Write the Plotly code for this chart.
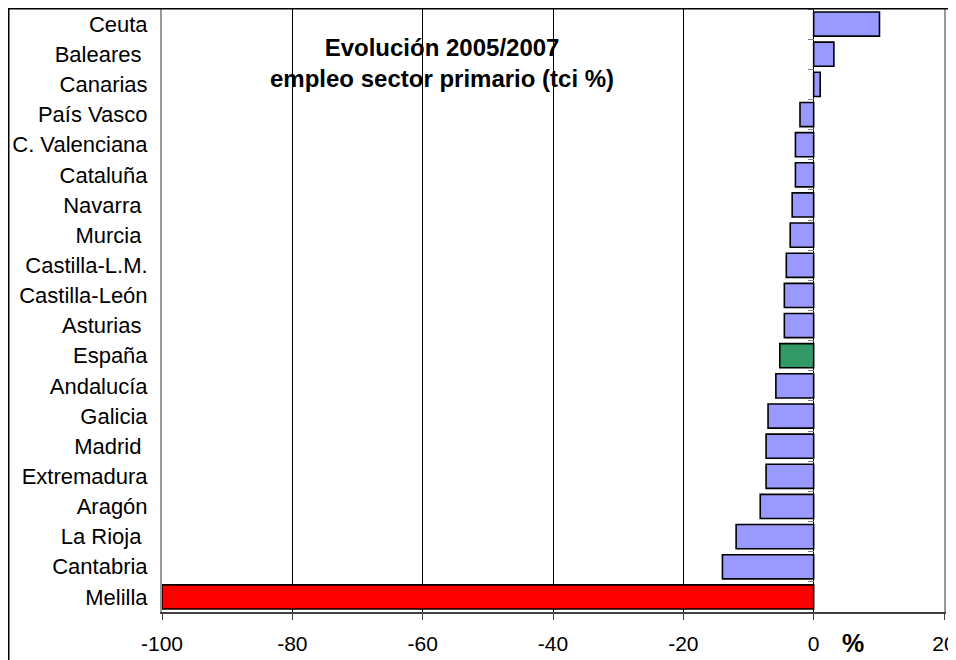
import plotly.graph_objects as go

categories = ["Ceuta", "Baleares\u00a0", "Canarias", "País Vasco", "C. Valenciana", "Cataluña",
              "Navarra\u00a0", "Murcia\u00a0", "Castilla-L.M.", "Castilla-León", "Asturias\u00a0",
              "España", "Andalucía", "Galicia", "Madrid\u00a0", "Extremadura", "Aragón",
              "La Rioja\u00a0", "Cantabria", "Melilla"]
values = [10.1, 3.1, 1.0, -2.1, -2.8, -2.8, -3.3, -3.6, -4.2, -4.5, -4.5,
          -5.2, -5.8, -7.0, -7.3, -7.3, -8.2, -11.9, -14.0, -100.0]
x_ticks = [-100, -80, -60, -40, -20, 0, 20]
x_range = [-100, 20]

def bar_color(name):
    if name.startswith("España"):
        return "#339966"
    if name.startswith("Melilla"):
        return "#FF0000"
    return "#9999FF"

colors = [bar_color(c) for c in categories]

FONT = "Liberation Sans, Arial, sans-serif"

fig = go.Figure()
fig.add_trace(go.Bar(
    x=values, y=categories, orientation="h",
    marker=dict(color=colors, line=dict(color="black", width=1.6)),
    hoverinfo="x+y", showlegend=False,
))
# invisible trace for the category axis drawn at zero
fig.add_trace(go.Scatter(
    x=[0] * len(categories), y=categories, yaxis="y2", mode="markers",
    marker=dict(opacity=0), hoverinfo="skip", showlegend=False,
))

# page body has an 8px margin; figure sized to fit the window
W, H = 948, 652
L, R, T, B = 154, 12, 1, 48
pw, ph = W - L - R, H - T - B

def px_x(px):  # px in figure pixels
    return (px - L) / pw

def px_y(py):
    return (H - B - py) / ph

zero_pos = (0 - x_range[0]) / (x_range[1] - x_range[0])

fig.update_layout(
    width=W, height=H,
    margin=dict(l=L, r=R, t=T, b=B),
    paper_bgcolor="white", plot_bgcolor="white",
    bargap=0.2,
    font=dict(family=FONT, color="black"),
    xaxis=dict(
        range=x_range, tickvals=x_ticks, ticktext=[str(v) for v in x_ticks],
        showgrid=True, gridcolor="black", gridwidth=1, zeroline=False,
        showline=True, linecolor="#404040", linewidth=1.5, mirror=False,
        ticks="outside", ticklen=6, tickcolor="#404040", tickwidth=1,
        tickfont=dict(size=21, family=FONT, color="black"),
        ticklabelstandoff=6, fixedrange=True,
    ),
    yaxis=dict(
        type="category", categoryorder="array", categoryarray=categories,
        range=[len(categories) - 0.5, -0.5],
        showgrid=False, zeroline=False,
        showline=True, linecolor="#999999", linewidth=2, mirror=True,
        ticks="", tickfont=dict(size=22, family=FONT, color="black"),
        ticklabelstandoff=8, fixedrange=True,
    ),
    yaxis2=dict(
        type="category", categoryorder="array", categoryarray=categories,
        range=[len(categories) - 0.5, -0.5],
        overlaying="y", anchor="free", position=zero_pos,
        showgrid=False, zeroline=False, showline=False,
        ticks="outside", ticklen=6, tickcolor="#808080", tickwidth=1,
        tickson="boundaries", showticklabels=False, fixedrange=True,
    ),
    annotations=[
        dict(text="<b>Evolución 2005/2007<br>empleo sector primario (tci %)</b>",
             xref="paper", yref="paper", x=px_x(434), y=px_y(55),
             xanchor="center", yanchor="middle", showarrow=False,
             font=dict(size=24, family=FONT, color="black")),
        dict(text="<b>%</b>", xref="paper", yref="paper",
             x=px_x(845), y=px_y(635), xanchor="center", yanchor="middle",
             showarrow=False, font=dict(size=25, family=FONT, color="black")),
    ],
    shapes=[
        dict(type="line", xref="paper", yref="paper", x0=px_x(0), x1=px_x(W),
             y0=px_y(0.5), y1=px_y(0.5), line=dict(color="black", width=2), layer="above"),
        dict(type="line", xref="paper", yref="paper", x0=px_x(0.5), x1=px_x(0.5),
             y0=px_y(0), y1=px_y(H), line=dict(color="black", width=2), layer="above"),
    ],
)

fig.write_html("out.html")
